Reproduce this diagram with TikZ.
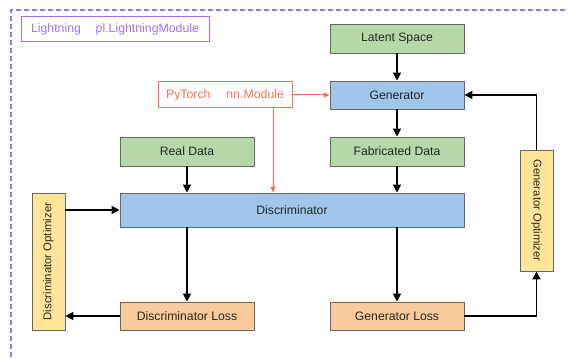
\documentclass[tikz,border=0pt]{standalone}
\usepackage{fontspec}
\setmainfont{Liberation Sans}
\usetikzlibrary{arrows.meta}
\definecolor{cgreen}{HTML}{B6D7A8}
\definecolor{cblue}{HTML}{9FC5E8}
\definecolor{corange}{HTML}{F9CB9C}
\definecolor{cyellow}{HTML}{FFE599}
\definecolor{cborder}{HTML}{666666}
\definecolor{cpurple}{HTML}{A070F0}
\definecolor{cred}{HTML}{F86F50}
\definecolor{ctext}{HTML}{262626}
\tikzset{
  box/.style={draw=cborder, line width=0.9pt, inner sep=0pt, text=ctext,
    font=\fontsize{12.2}{14}\selectfont},
  hbox/.style={box, minimum width=134pt, minimum height=28pt},
  vbox/.style={box, fill=cyellow, font=\fontsize{11.3}{13}\selectfont},
  arr/.style={line width=1.7pt, -{Triangle[width=8pt,length=8pt]}},
  redarr/.style={draw=cred, line width=1pt, -{Triangle[width=5pt,length=6pt]}, cred},
}
\begin{document}
\begin{tikzpicture}[x=1pt,y=-1pt]
\useasboundingbox (0,0) rectangle (568,358);
\clip (0,0) rectangle (568,358);
\draw[cpurple, line width=1.2pt, dash pattern=on 5pt off 3pt] (11,365) -- (11,10) -- (575,10);
\node[draw=cpurple, line width=1pt, text=cpurple, minimum width=188pt, minimum height=25pt, inner sep=0pt, font=\fontsize{12.3}{14}\selectfont] (light) at (115,29.5) {Lightning\hspace{1.2em}pl.LightningModule};
\node[draw=cred, line width=1pt, text=cred, minimum width=134pt, minimum height=26pt, inner sep=0pt, font=\fontsize{12.3}{14}\selectfont] (torch) at (225,95) {PyTorch\hspace{1.3em}nn.Module};
\node[hbox, fill=cgreen, minimum height=29pt] (latent) at (397,38.5) {Latent Space};
\node[hbox, fill=cblue] (gen) at (397,95) {Generator};
\node[hbox, fill=cgreen, minimum height=29pt] (real) at (187,151.5) {Real Data};
\node[hbox, fill=cgreen, minimum height=29pt] (fab) at (397,151.5) {Fabricated Data};
\node[box, fill=cblue, minimum width=344pt, minimum height=34pt] (disc) at (292,210) {Discriminator};
\node[hbox, fill=corange] (dloss) at (187,316) {Discriminator Loss};
\node[hbox, fill=corange] (gloss) at (397,316) {Generator Loss};
\node[vbox, rotate=90, minimum width=137pt, minimum height=33pt] (dopt) at (48.5,261.5) {Discriminator Optimizer};
\node[vbox, rotate=-90, minimum width=121pt, minimum height=33pt] (gopt) at (536.5,210.5) {Generator Optimizer};
\coordinate (rx) at (273,0);
\draw[arr] (latent) -- (gen);
\draw[arr] (gen) -- (fab);
\draw[arr] (real) -- (real |- disc.north);
\draw[arr] (fab) -- (fab |- disc.north);
\draw[arr] (disc.south -| dloss) -- (dloss);
\draw[arr] (disc.south -| gloss) -- (gloss);
\draw[arr] (disc.west -| dopt.south) -- (disc.west);
\draw[arr] (dloss.west) -- (dloss.west -| dopt.south);
\draw[arr] (gloss.east) -| (gopt.east);
\draw[arr] (gopt.west) |- (gen.east);
\draw[redarr] (torch.east) -- (gen.west);
\draw[redarr] (torch.south -| rx) -- (disc.north -| rx);
\end{tikzpicture}
\end{document}
